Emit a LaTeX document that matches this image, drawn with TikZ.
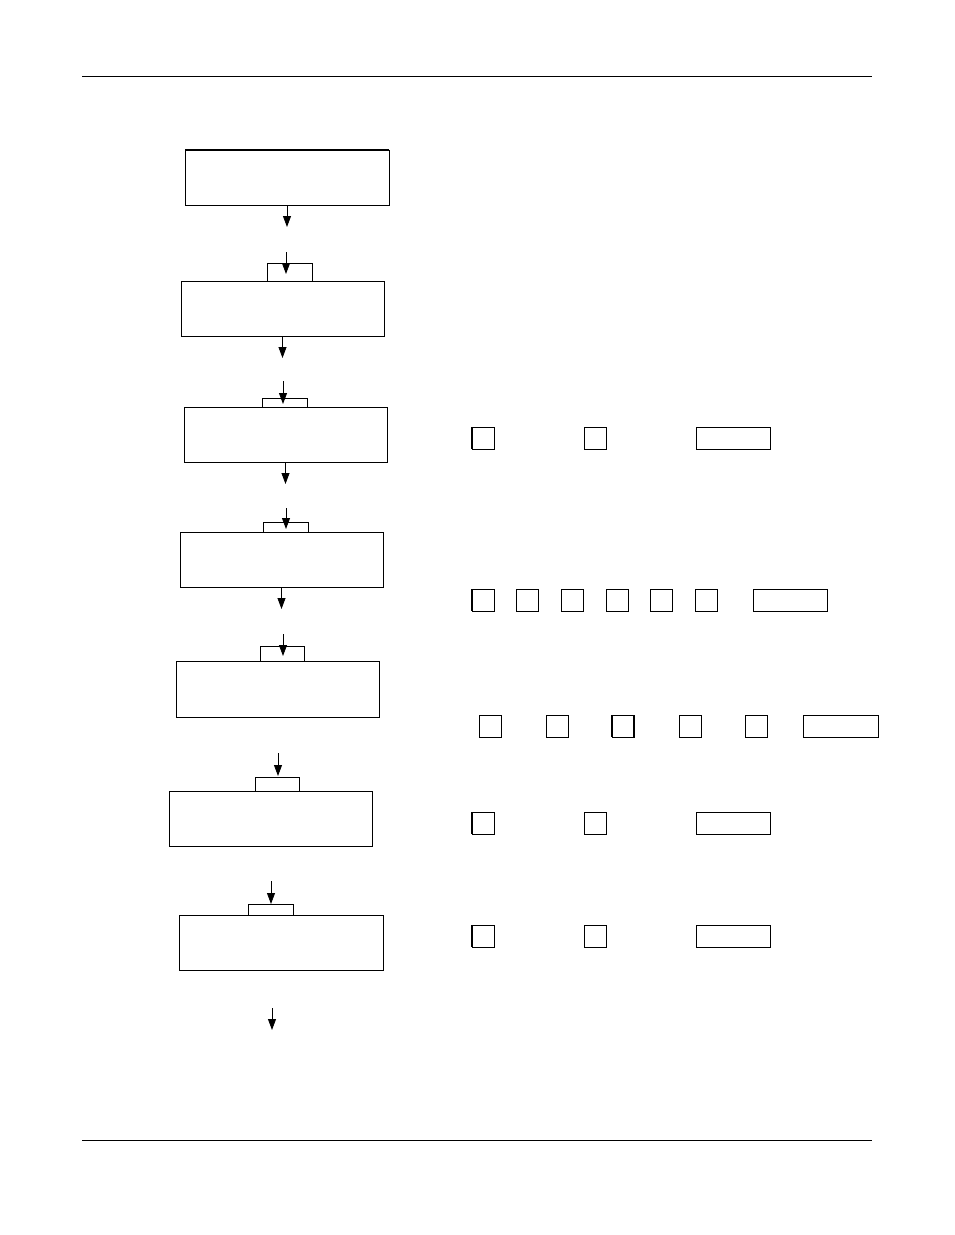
\documentclass[tikz,border=0pt]{standalone}
\usetikzlibrary{arrows.meta}

\tikzset{
  stepbox/.style={draw, line width=0.9pt, inner sep=0pt, outer sep=0pt, anchor=north west, minimum width=204pt, minimum height=55pt},
  tabbox/.style={draw, line width=0.9pt, inner sep=0pt, outer sep=0pt, anchor=north west, minimum width=45pt},
  keybox/.style={draw, line width=0.9pt, inner sep=0pt, outer sep=0pt, anchor=north west, minimum width=22pt, minimum height=22pt},
  widekey/.style={keybox, minimum width=74pt},
  flow/.style={line width=0.8pt, -{Triangle[length=11pt,width=8pt]}}
}

\begin{document}
\begin{tikzpicture}[x=1pt,y=-1pt]

\useasboundingbox (0,0) rectangle (954,1235); % Page

\draw[line width=0.9pt] (82,76) -- (872,76); % Header rule
\draw[line width=0.9pt] (82,1140) -- (872,1140); % Footer rule

% Steps down the left
\node[stepbox] (s1) at (185,150) {};
\draw[line width=2pt] (s1.north west) -- (s1.north east); % Heavier top edge

\node[tabbox, minimum height=18pt] (t2) at (267,263) {};
\node[stepbox, minimum width=203pt] (s2) at (181,281) {};

\node[tabbox, minimum height=9pt] (t3) at (262,398) {};
\node[stepbox, minimum width=203pt] (s3) at (184,407) {};

\node[tabbox, minimum height=10pt] (t4) at (263,522) {};
\node[stepbox, minimum width=203pt] (s4) at (180,532) {};

\node[tabbox, minimum height=15pt, minimum width=44pt] (t5) at (260,646) {};
\node[stepbox, minimum width=203pt, minimum height=56pt] (s5) at (176,661) {};

\node[tabbox, minimum height=14pt, minimum width=44pt] (t6) at (255,777) {};
\node[stepbox, minimum width=203pt] (s6) at (169,791) {};

\node[tabbox, minimum height=11pt] (t7) at (248,904) {};
\node[stepbox] (s7) at (179,915) {};

% Arrows out of the steps
\coordinate (o1) at ([yshift=-22pt]s1.south);
\coordinate (o2) at ([yshift=-22pt]s2.south);
\coordinate (o3) at ([yshift=-22pt]s3.south);
\coordinate (o4) at ([yshift=-22pt]s4.south);
\draw[flow] (s1.south) -- (o1);
\draw[flow] (s2.south) -- (o2);
\draw[flow] (s3.south) -- (o3);
\draw[flow] (s4.south) -- (o4);

% Arrows into the tabs
\coordinate (i2) at (286,252);
\coordinate (i3) at (283,381);
\coordinate (i4) at (286,508);
\coordinate (i5) at (283,634);
\coordinate (i6) at (278,753);
\coordinate (i7) at (271,881);
\draw[flow, shorten >=7pt] (i2) -- (i2 |- t2.south);
\draw[flow, shorten >=3pt] (i3) -- (i3 |- t3.south);
\draw[flow, shorten >=3pt] (i4) -- (i4 |- t4.south);
\draw[flow, shorten >=5pt] (i5) -- (i5 |- t5.south);
\draw[flow, shorten >=1pt] (i6) -- (i6 |- t6.north);
\draw[flow] (i7) -- (i7 |- t7.north);

% Last arrow, loose at the bottom
\coordinate (e1) at (272,1008);
\coordinate (e2) at (272,1030);
\draw[flow] (e1) -- (e2);

% Keys, first row
\node[keybox] (a1) at (472,427) {};
\node[keybox] (a2) at (584,427) {};
\node[widekey] (a3) at (696,427) {};

% Keys, second row
\node[keybox] (b1) at (472,589) {};
\node[keybox] (b2) at (516,589) {};
\node[keybox] (b3) at (561,589) {};
\node[keybox] (b4) at (606,589) {};
\node[keybox] (b5) at (650,589) {};
\node[keybox] (b6) at (695,589) {};
\node[widekey] (b7) at (753,589) {};

% Keys, third row
\node[keybox] (c1) at (479,715) {};
\node[keybox] (c2) at (546,715) {};
\node[keybox] (c3) at (612,715) {};
\node[keybox] (c4) at (679,715) {};
\node[keybox] (c5) at (745,715) {};
\node[widekey, minimum width=75pt] (c6) at (803,715) {};

% Keys, fourth row
\node[keybox] (d1) at (472,812) {};
\node[keybox] (d2) at (584,812) {};
\node[widekey] (d3) at (696,812) {};

% Keys, fifth row
\node[keybox] (f1) at (472,925) {};
\node[keybox] (f2) at (584,925) {};
\node[widekey] (f3) at (696,925) {};

% Heavier key edges
\draw[line width=1.8pt] (a1.north west) -- (a1.south west);
\draw[line width=1.8pt] (b1.north west) -- (b1.south west);
\draw[line width=1.8pt] (c3.north west) -- (c3.south west);
\draw[line width=1.8pt] (c3.north east) -- (c3.south east);
\draw[line width=1.8pt] (d1.north west) -- (d1.south west);
\draw[line width=1.8pt] (f1.north west) -- (f1.south west);

\end{tikzpicture}
\end{document}
